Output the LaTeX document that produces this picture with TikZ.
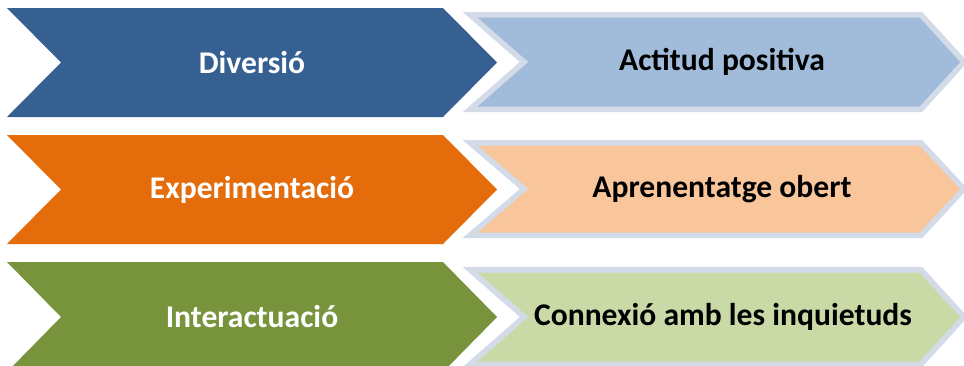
\documentclass[tikz,border=0pt]{standalone}
\usepackage{fontspec}
\setmainfont{Carlito}

\definecolor{darkblue}{HTML}{376092}
\definecolor{darkorange}{HTML}{E46C0A}
\definecolor{darkgreen}{HTML}{77933C}
\definecolor{paleblue}{HTML}{A1BBDB}
\definecolor{paleorange}{HTML}{F9C69C}
\definecolor{palegreen}{HTML}{CADAA6}
\definecolor{rimgray}{HTML}{D3DAE8}

\begin{document}
\begin{tikzpicture}[x=1pt, y=-1pt,
        lefttext/.style={font=\fontsize{31.6}{36}\selectfont\bfseries, text=white},
        righttext/.style={font=\fontsize{31.6}{36}\selectfont\bfseries, text=black},
        rimshape/.style={draw=rimgray, line width=5.5pt}]
        \useasboundingbox (0,0) rectangle (964,365);
        \clip (0,0) rectangle (964,365);

        % row 1
        \fill[darkblue] (7,8) -- (443,8) -- (497,62.5) -- (443,117) -- (7,117) -- (61,62.5) -- cycle;
        \filldraw[rimshape, fill=paleblue] (470,14.75) -- (921,14.75) -- (964,62) -- (921,109.25) -- (470,109.25) -- (524,62) -- cycle;
        \node[lefttext] (diversio) at (252,62.5) {Diversió};
        \node[righttext] (actitud) at (722,62) {Actitud positiva};

        % row 2
        \fill[darkorange] (7,135) -- (443,135) -- (497,189.5) -- (443,244) -- (7,244) -- (61,189.5) -- cycle;
        \filldraw[rimshape, fill=paleorange] (470,142.75) -- (921,142.75) -- (964,189) -- (921,235.25) -- (470,235.25) -- (524,189) -- cycle;
        \node[lefttext] (experimentacio) at (252,189.5) {Experimentació};
        \node[righttext] (aprenentatge) at (722,189) {Aprenentatge obert};

        % row 3
        \fill[darkgreen] (7,262) -- (443,262) -- (497,317) -- (443,372) -- (7,372) -- (61,317) -- cycle;
        \filldraw[rimshape, fill=palegreen] (470,269.75) -- (921,269.75) -- (964,317) -- (921,364.25) -- (470,364.25) -- (524,317) -- cycle;
        \node[lefttext] (interactuacio) at (252,317) {Interactuació};
        \node[righttext] (connexio) at (723,317) {Connexió amb les inquietuds};
    \end{tikzpicture}
\end{document}
